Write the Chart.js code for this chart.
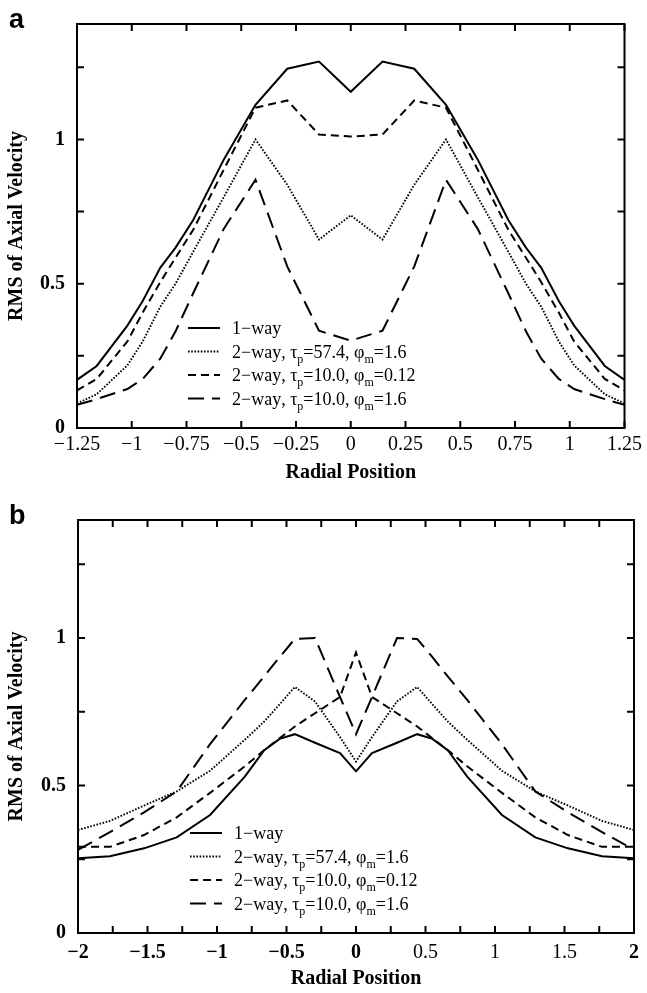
<!DOCTYPE html>
<html>
<head>
<meta charset="utf-8">
<script src="https://cdn.jsdelivr.net/npm/chart.js@4/dist/chart.umd.min.js"></script>
<style>
	body { margin: 0; background: #fff; }
	.panel { position: absolute; left: 0; width: 647px; }
	#panelA { top: 0; height: 496px; }
	#panelB { top: 496px; height: 497px; }
</style>
</head>
<body>
<div class="panel" id="panelA"><canvas id="chartA" width="647" height="496"></canvas></div>
<div class="panel" id="panelB"><canvas id="chartB" width="647" height="497"></canvas></div>
<script>
// panel a : radial positions and RMS values
var xA = [-1.25, -1.16, -1.02, -0.95, -0.87, -0.8, -0.72, -0.58, -0.435, -0.29, -0.145, 0, 0.145, 0.29, 0.435, 0.58, 0.72, 0.8, 0.87, 0.95, 1.02, 1.16, 1.25];
var oneWayA = [0.167, 0.215, 0.355, 0.44, 0.555, 0.625, 0.72, 0.93, 1.12, 1.245, 1.27, 1.165, 1.27, 1.245, 1.12, 0.93, 0.72, 0.625, 0.555, 0.44, 0.355, 0.215, 0.167];
var tau57A = [0.085, 0.117, 0.217, 0.30, 0.42, 0.50, 0.61, 0.80, 1.0, 0.843, 0.653, 0.737, 0.653, 0.843, 1.0, 0.80, 0.61, 0.50, 0.42, 0.30, 0.217, 0.117, 0.085];
var tau10LowA = [0.13, 0.17, 0.30, 0.40, 0.505, 0.59, 0.686, 0.895, 1.11, 1.135, 1.017, 1.01, 1.017, 1.135, 1.11, 0.895, 0.686, 0.59, 0.505, 0.40, 0.30, 0.17, 0.13];
var tau10HighA = [0.08, 0.10, 0.135, 0.17, 0.24, 0.335, 0.466, 0.69, 0.86, 0.56, 0.337, 0.303, 0.337, 0.56, 0.86, 0.69, 0.466, 0.335, 0.24, 0.17, 0.135, 0.10, 0.08];

// panel b
var xB = [-2, -1.77, -1.525, -1.29, -1.05, -0.8, -0.66, -0.55, -0.44, -0.295, -0.115, 0, 0.115, 0.295, 0.44, 0.55, 0.66, 0.8, 1.05, 1.29, 1.525, 1.77, 2];
var oneWayB = [0.253, 0.26, 0.287, 0.324, 0.40, 0.53, 0.62, 0.658, 0.674, 0.645, 0.61, 0.548, 0.61, 0.645, 0.674, 0.658, 0.62, 0.53, 0.40, 0.324, 0.287, 0.26, 0.253];
var tau57B = [0.349, 0.38, 0.432, 0.48, 0.55, 0.655, 0.717, 0.775, 0.834, 0.785, 0.664, 0.581, 0.664, 0.785, 0.834, 0.775, 0.717, 0.655, 0.55, 0.48, 0.432, 0.38, 0.349];
var tau10LowB = [0.292, 0.292, 0.332, 0.392, 0.475, 0.565, 0.62, 0.66, 0.70, 0.745, 0.80, 0.951, 0.80, 0.745, 0.70, 0.66, 0.62, 0.565, 0.475, 0.392, 0.332, 0.292, 0.292];
var tau10HighB = [0.282, 0.342, 0.409, 0.48, 0.64, 0.79, 0.87, 0.935, 0.997, 1.0, 0.80, 0.674, 0.80, 1.0, 0.997, 0.935, 0.87, 0.79, 0.64, 0.48, 0.409, 0.342, 0.282];

// legend text, "_x" marks a subscript character
var seriesLabels = ['1\u2212way', '2\u2212way, \u03c4_p=57.4, \u03c6_m=1.6', '2\u2212way, \u03c4_p=10.0, \u03c6_m=0.12', '2\u2212way, \u03c4_p=10.0, \u03c6_m=1.6'];
var lineDashes = [[], [1.6, 1.6], [8, 5], [16, 8]];
var lineWidths = [2, 1.9, 2, 2];

var SERIF = '"Liberation Serif", "Times New Roman", serif';

function fmtTick(v) {
	var r = Math.round(v * 100) / 100;
	return String(r).replace('-', '\u2212');
}

function onStep(v, step) {
	return Math.abs(v / step - Math.round(v / step)) < 1e-6;
}

function buildSets(xs, ys) {
	return ys.map(function(arr, i) {
		return {
			label: seriesLabels[i],
			data: arr.map(function(y, k) { return { x: xs[k], y: y }; }),
			borderColor: '#000',
			borderWidth: lineWidths[i],
			borderDash: lineDashes[i],
			pointRadius: 0,
			tension: 0,
			fill: false
		};
	});
}

// frame, inward tick marks and panel letter
var framePlugin = {
	id: 'frame',
	afterDatasetsDraw: function(chart, args, opts) {
		var ctx = chart.ctx;
		var a = chart.chartArea;
		var len = 7;
		ctx.save();
		ctx.strokeStyle = '#000';
		ctx.lineWidth = 2;
		ctx.strokeRect(a.left, a.top, a.right - a.left, a.bottom - a.top);
		ctx.beginPath();
		chart.scales.x.ticks.forEach(function(t) {
			if (!onStep(t.value, 0.25)) return;
			var px = chart.scales.x.getPixelForValue(t.value);
			ctx.moveTo(px, a.bottom); ctx.lineTo(px, a.bottom - len);
			ctx.moveTo(px, a.top); ctx.lineTo(px, a.top + len);
		});
		chart.scales.y.ticks.forEach(function(t) {
			if (!onStep(t.value, 0.25)) return;
			var py = chart.scales.y.getPixelForValue(t.value);
			ctx.moveTo(a.left, py); ctx.lineTo(a.left + len, py);
			ctx.moveTo(a.right, py); ctx.lineTo(a.right - len, py);
		});
		ctx.stroke();
		ctx.fillStyle = '#000';
		ctx.font = 'bold 27px "Liberation Sans", Arial, sans-serif';
		ctx.textBaseline = 'alphabetic';
		ctx.fillText(opts.letter, 9, opts.letterY);
		ctx.restore();
	}
};

function drawRich(ctx, text, x, y) {
	var i = 0;
	while (i < text.length) {
		if (text[i] === '_') {
			ctx.font = '12px ' + SERIF;
			ctx.fillText(text[i + 1], x, y + 5);
			x += ctx.measureText(text[i + 1]).width;
			i += 2;
		} else {
			ctx.font = '18px ' + SERIF;
			ctx.fillText(text[i], x, y);
			x += ctx.measureText(text[i]).width;
			i++;
		}
	}
}

// legend with subscripts, drawn inside the plot
var legendPlugin = {
	id: 'richLegend',
	afterDatasetsDraw: function(chart, args, opts) {
		var ctx = chart.ctx;
		ctx.save();
		ctx.fillStyle = '#000';
		ctx.textBaseline = 'alphabetic';
		chart.data.datasets.forEach(function(ds, i) {
			var y = opts.y + i * opts.gap;
			ctx.beginPath();
			ctx.strokeStyle = '#000';
			ctx.lineWidth = ds.borderWidth;
			ctx.setLineDash(ds.borderDash);
			ctx.moveTo(opts.x, y);
			ctx.lineTo(opts.x + 32, y);
			ctx.stroke();
			ctx.setLineDash([]);
			drawRich(ctx, ds.label, opts.x + 44, y + 6);
		});
		ctx.restore();
	}
};

function makeChart(id, xs, ys, cfg) {
	var ctx = document.getElementById(id);
	return new Chart(ctx, {
		type: 'line',
		data: { datasets: buildSets(xs, ys) },
		plugins: [framePlugin, legendPlugin],
		options: {
			responsive: false,
			animation: false,
			layout: { padding: { top: cfg.top, right: cfg.right, left: 0, bottom: 0 } },
			plugins: {
				legend: { display: false },
				tooltip: { enabled: false },
				frame: { letter: cfg.letter, letterY: cfg.letterY },
				richLegend: { x: cfg.legendX, y: cfg.legendY, gap: cfg.legendGap }
			},
			scales: {
				x: {
					type: 'linear',
					min: cfg.xMin,
					max: cfg.xMax,
					grid: { display: false, drawTicks: false },
					border: { display: false },
					ticks: {
						stepSize: 0.25,
						autoSkip: false,
						maxRotation: 0,
						padding: cfg.xPad,
						color: '#000',
						font: cfg.xFont,
						callback: function(v) { return onStep(v, cfg.xLabelStep) ? fmtTick(v) : ''; }
					},
					title: {
						display: true,
						text: 'Radial Position',
						color: '#000',
						font: { family: SERIF, size: 20, weight: 'bold' },
						padding: { top: 0, bottom: cfg.titlePad }
					},
					afterFit: function(s) { s.height = cfg.xHeight; }
				},
				y: {
					min: 0,
					max: 1.4,
					grid: { display: false, drawTicks: false },
					border: { display: false },
					ticks: {
						stepSize: 0.25,
						padding: 12,
						color: '#000',
						font: { family: SERIF, size: 20, weight: 'bold' },
						callback: function(v) { return onStep(v, 0.5) ? fmtTick(v) : ''; }
					},
					title: {
						display: true,
						text: 'RMS of Axial Velocity',
						color: '#000',
						font: { family: SERIF, size: 20, weight: 'bold' },
						padding: { top: 5, bottom: 0 }
					},
					afterFit: function(s) { s.width = cfg.yWidth; }
				}
			}
		}
	});
}

makeChart('chartA', xA, [oneWayA, tau57A, tau10LowA, tau10HighA], {
	top: 8, right: 18, letter: 'a', letterY: 28,
	xMin: -1.25, xMax: 1.25, xLabelStep: 0.25, xPad: 5, xHeight: 68, titlePad: 11, yWidth: 77,
	xFont: { family: SERIF, size: 20 },
	legendX: 188, legendY: 328, legendGap: 23.5
});

makeChart('chartB', xB, [oneWayB, tau57B, tau10LowB, tau10HighB], {
	top: 15, right: 13, letter: 'b', letterY: 28,
	xMin: -2, xMax: 2, xLabelStep: 0.5, xPad: 8, xHeight: 60, titlePad: 2, yWidth: 78,
	xFont: function(c) {
		var v = c.tick ? c.tick.value : 0;
		return { family: SERIF, size: 20, weight: (v < 0.01 || v > 1.99) ? 'bold' : 'normal' };
	},
	legendX: 190, legendY: 337, legendGap: 23.5
});
</script>
</body>
</html>
